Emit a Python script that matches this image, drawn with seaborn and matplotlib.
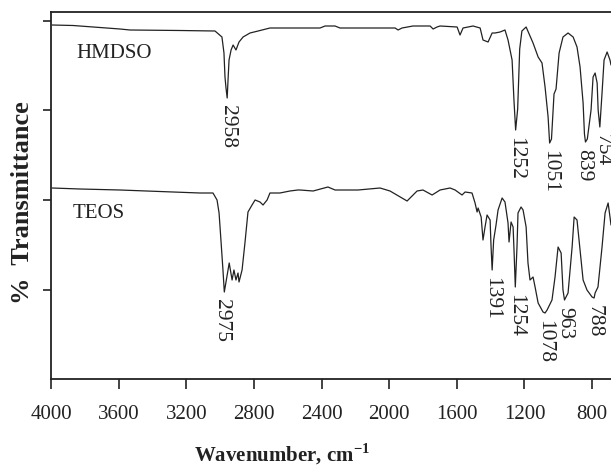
import numpy as np
import pandas as pd
import seaborn as sns
import matplotlib.pyplot as plt

# HMDSO spectrum (wavenumber cm-1, transmittance a.u.)
hmdso_wn = [3994, 3870, 3592, 3533, 3237, 3030, 2989, 2977, 2971, 2965, 2958, 2953, 2947,
            2935, 2923, 2906, 2888, 2864, 2823, 2775, 2705, 2527, 2409, 2379, 2320, 2291,
            1965, 1947, 1924, 1859, 1758, 1740, 1717, 1699, 1598, 1581, 1563, 1504, 1462,
            1445, 1415, 1391, 1374, 1344, 1315, 1297, 1273, 1262, 1252, 1240, 1228, 1215,
            1190, 1149, 1119, 1096, 1078, 1060, 1051, 1040, 1025, 1013, 995, 972, 942, 912,
            889, 871, 853, 845, 839, 828, 806, 794, 782, 770, 764, 754, 741, 729, 711, 694, 688]
hmdso_t = [354, 353.5, 350, 349, 348.5, 348, 342, 326, 302, 291, 281, 299, 319,
           329, 334, 329, 337, 342, 346, 348, 351, 351, 351, 353, 353, 351,
           351, 349, 351, 353, 353, 350, 352, 353, 352, 344, 351, 353, 351,
           339, 337, 346, 346, 347, 349, 339, 319, 279, 249, 270, 330, 348,
           352, 336, 322, 316, 292, 262, 236, 240, 285, 290, 326, 342, 346, 342,
           332, 312, 276, 245, 237, 240, 269, 302, 306, 296, 269, 252, 286, 319, 327, 319, 314]

# TEOS spectrum
teos_wn = [3994, 3828, 3592, 3278, 3119, 3042, 3018, 3006, 2995, 2983, 2975, 2962, 2946,
           2929, 2918, 2906, 2894, 2888, 2870, 2853, 2835, 2811, 2793, 2764, 2746, 2722,
           2705, 2646, 2587, 2540, 2527, 2450, 2362, 2320, 2184, 2054, 1995, 1894, 1835,
           1800, 1746, 1699, 1640, 1610, 1569, 1551, 1510, 1492, 1480, 1474, 1456, 1445,
           1433, 1421, 1403, 1398, 1391, 1382, 1368, 1356, 1332, 1315, 1297, 1291, 1279,
           1267, 1261, 1254, 1244, 1238, 1220, 1208, 1190, 1179, 1167, 1149, 1137, 1119,
           1090, 1078, 1066, 1037, 1019, 1001, 983, 972, 963, 942, 918, 906, 889, 877, 853,
           830, 800, 788, 782, 765, 741, 723, 705, 694, 688]
teos_t = [191, 190, 189, 187, 186, 186, 179, 166, 139, 109, 87, 100, 116,
          99, 109, 99, 106, 97, 109, 136, 167, 174, 179, 177, 174, 179,
          186, 186, 188, 189, 189, 188, 192, 189, 189, 191, 188, 178, 188,
          189, 184, 189, 191, 189, 184, 187, 186, 176, 167, 171, 162, 139,
          152, 164, 159, 135, 109, 139, 154, 169, 181, 177, 156, 137, 157,
          152, 126, 92, 132, 166, 172, 169, 152, 116, 99, 102, 92, 76,
          67, 66, 69, 79, 102, 132, 126, 89, 79, 86, 132, 162, 159, 139, 99,
          89, 82, 81, 86, 92, 132, 166, 176, 162, 154]

hmdso_peaks = [2958, 1252, 1051, 839, 754]
teos_peaks = [2975, 1391, 1254, 1078, 963, 788]

df = pd.concat([
    pd.DataFrame({'wn': hmdso_wn, 't': hmdso_t, 'sample': 'HMDSO'}),
    pd.DataFrame({'wn': teos_wn, 't': teos_t, 'sample': 'TEOS'}),
])

sns.set_theme(style='ticks')
plt.rcParams['font.family'] = ['Liberation Serif', 'DejaVu Serif']
plt.rcParams['mathtext.fontset'] = 'custom'
plt.rcParams['mathtext.rm'] = 'Liberation Serif'
plt.rcParams['mathtext.bf'] = 'Liberation Serif:bold'

fig = plt.figure(figsize=(6.11, 4.66), dpi=100)
ax = fig.add_axes([51 / 611, 87 / 466, 560 / 611, 367 / 466])

sns.lineplot(data=df, x='wn', y='t', units='sample', estimator=None,
             color='#222222', linewidth=0.9, ax=ax, legend=False)

ax.set_xlim(4000, 688)
ax.set_ylim(0, 367)
ax.set_xticks(np.arange(4000, 799, -400))
ax.set_yticks([89, 179, 269, 358])
ax.set_yticklabels([])
ax.tick_params(axis='x', labelsize=15, length=7, width=1.2, pad=12, colors='#222222')
ax.tick_params(axis='y', length=6, width=1.2, colors='#222222')
for s in ['left', 'top', 'bottom']:
    ax.spines[s].set_linewidth(1.3)
    ax.spines[s].set_color('#222222')
ax.spines['right'].set_visible(False)

# small sideways nudges so neighbouring labels don't collide
nudge = {754: 2, 2975: -2, 839: -1}
for wns, ts, peaks in [(hmdso_wn, hmdso_t, hmdso_peaks), (teos_wn, teos_t, teos_peaks)]:
    for p in peaks:
        v = np.interp(p, wns[::-1], ts[::-1])
        ax.annotate(str(p), (p, v), xytext=(nudge.get(p, 0), -5), textcoords='offset points',
                    rotation=270, ha='center', va='top', fontsize=15.5, color='#222222')

ax.text(3852, 326, 'HMDSO', fontsize=15, ha='left', va='center', color='#222222')
ax.text(3870, 165, 'TEOS', fontsize=15, ha='left', va='center', color='#222222')

ax.set_xlabel('Wavenumber, cm$^{\\mathbf{-1}}$', fontsize=15, fontweight='bold', color='#222222')
ax.xaxis.set_label_coords(0.4125, -0.17)
ax.set_ylabel('%  Transmittance', fontsize=19, fontweight='bold', color='#222222')
ax.yaxis.set_label_coords(-0.03, 0.48)

fig.savefig('out.png', dpi=100)
